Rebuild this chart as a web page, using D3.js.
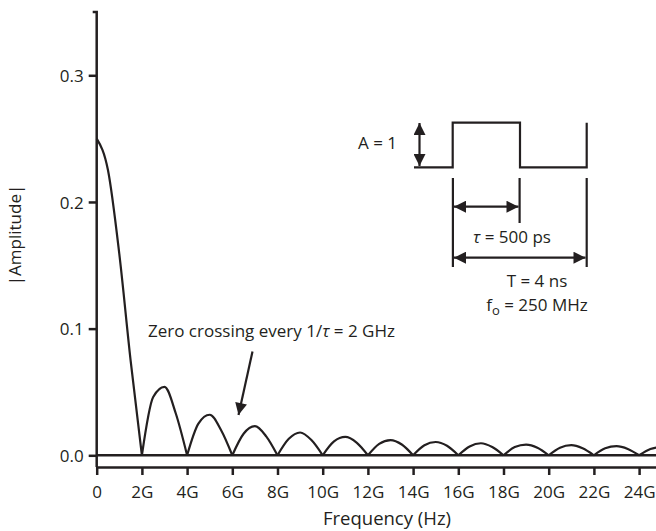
<!DOCTYPE html>
<html>
<head>
<meta charset="utf-8">
<script src="https://cdn.jsdelivr.net/npm/d3@7"></script>
<style>
  body { margin: 0; background: #fff; }
  text { font-family: "Open Sans", sans-serif; fill: #231f20; font-size: 17px; }
</style>
</head>
<body>
<div id="chart"></div>
<script>
// frequency in GHz, read every 0.5 GHz
const freqGHz = [0, 0.5, 1, 1.5, 2, 2.5, 3, 3.5, 4, 4.5, 5, 5.5, 6, 6.5, 7, 7.5, 8,
  8.5, 9, 9.5, 10, 10.5, 11, 11.5, 12, 12.5, 13, 13.5, 14, 14.5, 15, 15.5, 16,
  16.5, 17, 17.5, 18, 18.5, 19, 19.5, 20, 20.5, 21, 21.5, 22, 22.5, 23, 23.5, 24,
  24.5, 25];
const amplitude = [0.25, 0.225, 0.159, 0.075, 0, 0.046, 0.054, 0.033, 0, 0.025, 0.032, 0.020, 0,
  0.017, 0.023, 0.015, 0, 0.013, 0.018, 0.012, 0, 0.011, 0.0145, 0.010, 0,
  0.009, 0.012, 0.0085, 0, 0.008, 0.0105, 0.0075, 0, 0.007, 0.0095, 0.0065, 0,
  0.0065, 0.0085, 0.006, 0, 0.006, 0.008, 0.0055, 0, 0.0055, 0.0072, 0.005, 0,
  0.005, 0.0068];
const xTicks = [0, 2, 4, 6, 8, 10, 12, 14, 16, 18, 20, 22, 24];
const yTicks = [0, 0.1, 0.2, 0.3];

const width = 656, height = 531;
const ink = "#231f20";

const svg = d3.select("#chart").append("svg")
  .attr("width", width)
  .attr("height", height);

const defs = svg.append("defs");
defs.append("marker")
  .attr("id", "head")
  .attr("viewBox", "0 0 10 10")
  .attr("refX", 10).attr("refY", 5)
  .attr("markerUnits", "userSpaceOnUse")
  .attr("markerWidth", 13).attr("markerHeight", 12)
  .attr("orient", "auto-start-reverse")
  .append("path").attr("d", "M0,0L10,5L0,10Z").attr("fill", ink);

const x = d3.scaleLinear().domain([0, 25]).range([96.7, 96.7 + 25 * 22.6]);
const y = d3.scaleLinear().domain([0, 0.35]).range([455.3, 455.3 - 0.35 * 1266.7]);
const axisY = 467;

// y axis
const yAxis = svg.append("g")
  .attr("transform", "translate(" + x(0) + ",0)")
  .call(d3.axisLeft(y).tickValues(yTicks).tickSize(8).tickPadding(5)
    .tickFormat(d3.format(".1f")).tickSizeOuter(0));
yAxis.select(".domain").remove();
yAxis.selectAll("line").attr("stroke", ink).attr("stroke-width", 2.5);
yAxis.selectAll("text").style("font-size", "17px").attr("dy", "0.36em");
svg.append("path")
  .attr("d", "M" + (x(0) - 4) + "," + y(0.35) + "H" + x(0) + "V" + axisY)
  .attr("fill", "none").attr("stroke", ink).attr("stroke-width", 2.5);

// x axis
const xAxis = svg.append("g")
  .attr("transform", "translate(0," + axisY + ")")
  .call(d3.axisBottom(x).tickValues(xTicks).tickSize(8).tickSizeOuter(0)
    .tickFormat(d => d === 0 ? "0" : d + "G"));
xAxis.select(".domain").attr("stroke", ink).attr("stroke-width", 2.5);
xAxis.selectAll("line").attr("stroke", ink).attr("stroke-width", 2.5);
xAxis.selectAll("text").style("font-size", "17px").attr("y", 19).attr("dy", "0.71em");

// zero baseline
svg.append("line")
  .attr("x1", x(0)).attr("x2", width)
  .attr("y1", y(0)).attr("y2", y(0))
  .attr("stroke", ink).attr("stroke-width", 2.5);

// axis titles
svg.append("text")
  .attr("x", 387).attr("y", 525)
  .attr("text-anchor", "middle").style("font-size", "18.5px")
  .text("Frequency (Hz)");
svg.append("text")
  .attr("transform", "translate(21,235) rotate(-90)")
  .attr("text-anchor", "middle")
  .text("|Amplitude|");

// spectrum: one path per lobe, split at the zero crossings
const pts = freqGHz.map((f, i) => ({ f: f, a: amplitude[i] }));
const lobes = [];
let cur = [];
pts.forEach((p, i) => {
  cur.push(p);
  if (p.a === 0 && i > 0) { lobes.push(cur); cur = [p]; }
});
if (cur.length > 1) lobes.push(cur);

const line = d3.line().x(d => x(d.f)).y(d => y(d.a)).curve(d3.curveMonotoneX);
svg.append("g").selectAll("path")
  .data(lobes)
  .enter().append("path")
  .attr("d", line)
  .attr("fill", "none")
  .attr("stroke", ink)
  .attr("stroke-width", 2.2);

// annotation
svg.append("text")
  .attr("x", 148).attr("y", 337)
  .html("Zero crossing every 1/<tspan font-style='italic'>τ</tspan> = 2 GHz");
svg.append("line")
  .attr("x1", 252.5).attr("y1", 351.5).attr("x2", 238.5).attr("y2", 415)
  .attr("stroke", ink).attr("stroke-width", 2.2)
  .attr("marker-end", "url(#head)");

// inset pulse train
const inset = svg.append("g");
inset.append("path")
  .attr("d", "M414,167.3H452.7V122.7H520V167.3H586.7V122.7")
  .attr("fill", "none").attr("stroke", ink).attr("stroke-width", 2.2);
inset.append("line")
  .attr("x1", 419.5).attr("x2", 419.5).attr("y1", 123).attr("y2", 166)
  .attr("stroke", ink).attr("stroke-width", 2.2)
  .attr("marker-start", "url(#head)").attr("marker-end", "url(#head)");
inset.append("text")
  .attr("x", 397).attr("y", 149).attr("text-anchor", "end")
  .text("A = 1");
[[452.9, 267], [519.6, 223], [586.7, 267]].forEach(v => {
  inset.append("line")
    .attr("x1", v[0]).attr("x2", v[0]).attr("y1", 178).attr("y2", v[1])
    .attr("stroke", ink).attr("stroke-width", 2.2);
});
inset.append("line")
  .attr("x1", 454).attr("x2", 518.5).attr("y1", 206.7).attr("y2", 206.7)
  .attr("stroke", ink).attr("stroke-width", 2.2)
  .attr("marker-start", "url(#head)").attr("marker-end", "url(#head)");
inset.append("line")
  .attr("x1", 454).attr("x2", 585.5).attr("y1", 257.7).attr("y2", 257.7)
  .attr("stroke", ink).attr("stroke-width", 2.2)
  .attr("marker-start", "url(#head)").attr("marker-end", "url(#head)");
inset.append("text")
  .attr("x", 512).attr("y", 243).attr("text-anchor", "middle")
  .html("<tspan font-style='italic'>τ</tspan> = 500 ps");
inset.append("text")
  .attr("x", 537).attr("y", 287).attr("text-anchor", "middle")
  .text("T = 4 ns");
inset.append("text")
  .attr("x", 537).attr("y", 311).attr("text-anchor", "middle")
  .html("f<tspan dy='4' font-size='13px'>o</tspan><tspan dy='-4'> = 250 MHz</tspan>");
</script>
</body>
</html>
